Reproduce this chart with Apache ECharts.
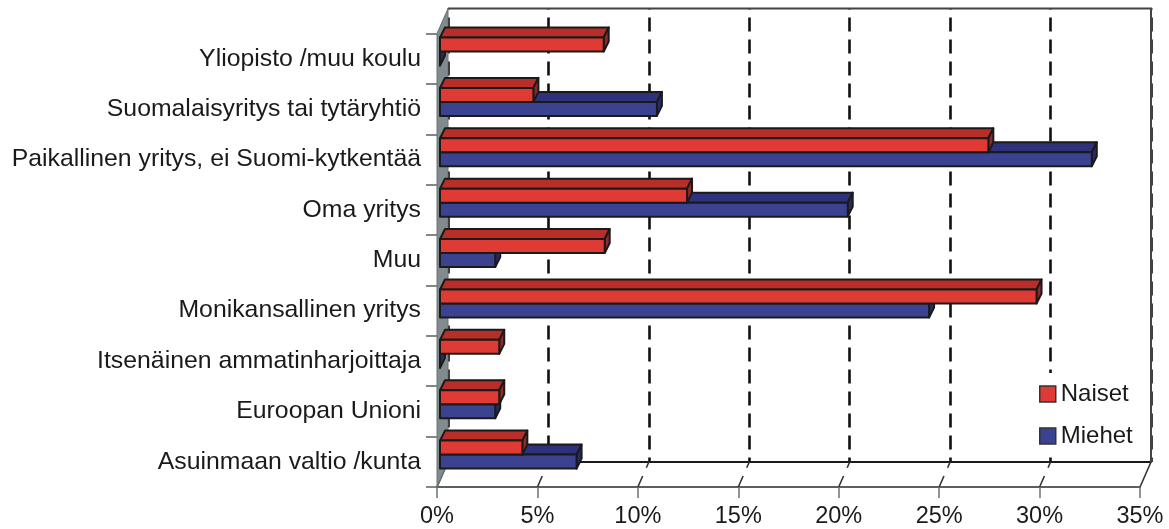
<!DOCTYPE html>
<html>
<head>
<meta charset="utf-8">
<title>Naiset / Miehet</title>
<style>html,body{margin:0;background:#fff}#chart{width:1169px;height:529px}</style>
<script src="https://cdn.jsdelivr.net/npm/echarts@6/dist/echarts.min.js"></script>
</head>
<body>
<div id="chart"></div>
<script>
"use strict";
const categories = ["Yliopisto /muu koulu", "Suomalaisyritys tai tytäryhtiö", "Paikallinen yritys, ei Suomi-kytkentää",
  "Oma yritys", "Muu", "Monikansallinen yritys", "Itsenäinen ammatinharjoittaja", "Euroopan Unioni", "Asuinmaan valtio /kunta"];
const naiset = [8.15, 4.65, 27.3, 12.3, 8.2, 29.7, 2.95, 2.95, 4.1];
const miehet = [0, 10.8, 32.45, 20.3, 2.75, 24.35, 0, 2.75, 6.8];
const xTicks = [0, 5, 10, 15, 20, 25, 30, 35];

const font = "'Liberation Sans', Arial, sans-serif";
const ink = "#1a1a1a";
const depth = {x: 11, y: -25};       // wall offset from the front plane
const barDepth = {x: 5, y: -10};     // 3d offset of a bar

/* ---------- one 3d bar: front, top and end faces ---------- */
function bar3d(top, colors) {
  return (params, api) => {
    const value = api.value(0), cat = api.value(1);
    const band = api.size([0, 1])[1];
    const yMid = api.coord([0, cat])[1];
    const x0 = api.coord([0, cat])[0] + 3, x1 = api.coord([value, cat])[0] + 3;
    const yt = yMid - band / 2 + top, yb = yt + 14;
    const dx = barDepth.x, dy = barDepth.y;
    const lw = {stroke: ink, lineWidth: 2, lineJoin: "round"};
    return {type: "group", children: [
      {type: "polygon", shape: {points: [[x0, yt], [x0 + dx, yt + dy], [x1 + dx, yt + dy], [x1, yt]]},
        style: {fill: colors[1], ...lw}},
      {type: "polygon", shape: {points: [[x1, yt], [x1 + dx, yt + dy], [x1 + dx, yb + dy], [x1, yb]]},
        style: {fill: colors[2], ...lw}},
      {type: "rect", shape: {x: x0, y: yt, width: x1 - x0, height: 14},
        style: {fill: colors[0], ...lw}},
    ]};
  };
}

/* ---------- side wall and floor lines ---------- */
function wall(params) {
  const c = params.coordSys;
  const b = c.y + c.height, l = c.x;
  return {type: "polygon", shape: {points: [[l, c.y], [l + depth.x, c.y + depth.y], [l + depth.x, b + depth.y], [l, b]]},
    style: {fill: "#818b8d", stroke: "#6b7375", lineWidth: 1}};
}
function floorLine(params, api) {
  const v = api.value(0);
  const c = params.coordSys;
  const x = api.coord([v, 0])[0], b = c.y + c.height;
  const solid = v === 0 || v === 35;
  return {type: "line", shape: {x1: x, y1: b, x2: x + depth.x, y2: b + depth.y},
    style: {stroke: "#333", lineWidth: 1.6, lineDash: solid ? null : [12, 9]}};
}
function frame(params) {
  const c = params.coordSys;
  return {type: "polyline", shape: {points: [[c.x, c.y], [c.x + c.width, c.y], [c.x + c.width, c.y + c.height]]},
    style: {stroke: "#444", lineWidth: 2, fill: null}};
}

const chart = echarts.init(document.getElementById("chart"));
chart.setOption({
  animation: false,
  backgroundColor: "#fff",
  textStyle: {fontFamily: font},
  grid: [
    {left: 437, top: 33.5, width: 703, height: 453.5},
    {left: 448, top: 8.5, width: 703, height: 453.5, show: false},
  ],
  xAxis: [
    {type: "value", gridIndex: 0, min: 0, max: 35, interval: 5,
      axisLabel: {formatter: "{value}%", fontSize: 23.5, color: ink, margin: 18, fontFamily: font, hideOverlap: false},
      axisLine: {show: true, lineStyle: {color: "#5a6062", width: 2}},
      axisTick: {show: true, length: 11, lineStyle: {color: "#6b7375", width: 1.5}},
      splitLine: {show: false}},
    {type: "value", gridIndex: 1, min: 0, max: 35, interval: 5,
      axisLabel: {show: false}, axisTick: {show: false},
      axisLine: {show: true, lineStyle: {color: ink, width: 2}},
      splitLine: {show: true, lineStyle: {color: "#111", width: 2.6, type: [14, 8], dashOffset: 13}}},
  ],
  yAxis: [
    {type: "category", gridIndex: 0, inverse: true, data: categories,
      axisLabel: {fontSize: 24.8, color: ink, margin: 16, fontFamily: font},
      axisLine: {show: false},
      axisTick: {show: true, length: 11, alignWithLabel: false, lineStyle: {color: "#5a6062", width: 1.5}}},
    {type: "category", gridIndex: 1, inverse: true, data: categories,
      axisLabel: {show: false}, axisTick: {show: false}, axisLine: {show: false}},
  ],
  legend: {
    data: ["Naiset", "Miehet"], orient: "vertical", left: 1031, top: 373,
    padding: [9, 8, 9, 8], itemWidth: 16, itemHeight: 16, itemGap: 18,
    backgroundColor: "#fff", icon: "rect", selectedMode: false,
    itemStyle: {borderColor: "#333", borderWidth: 1.5},
    textStyle: {fontSize: 24, color: ink, fontFamily: font, padding: [0, 0, 0, 0]},
  },
  series: [
    {name: "frame", type: "custom", xAxisIndex: 1, yAxisIndex: 1, silent: true, z: 1,
      data: [[0, 0]], encode: {x: 0, y: 1}, renderItem: frame},
    {name: "floor", type: "custom", xAxisIndex: 0, yAxisIndex: 0, silent: true, z: 2,
      data: xTicks.map((t) => [t, 0]), encode: {x: 0, y: 1}, renderItem: floorLine},
    {name: "wall", type: "custom", xAxisIndex: 0, yAxisIndex: 0, silent: true, z: 3,
      data: [[0, 0]], encode: {x: 0, y: 1}, renderItem: wall},
    {name: "Miehet", type: "custom", xAxisIndex: 0, yAxisIndex: 0, z: 4,
      itemStyle: {color: "#3b4290"},
      data: miehet.map((v, i) => [v, i]), encode: {x: 0, y: 1},
      renderItem: bar3d(18, ["#3b4290", "#2e317c", "#272a66"])},
    {name: "Naiset", type: "custom", xAxisIndex: 0, yAxisIndex: 0, z: 5,
      itemStyle: {color: "#e03a34"},
      data: naiset.map((v, i) => [v, i]), encode: {x: 0, y: 1},
      renderItem: bar3d(4, ["#e03a34", "#b82e28", "#8f2a2a"])},
  ],
});
</script>
</body>
</html>
